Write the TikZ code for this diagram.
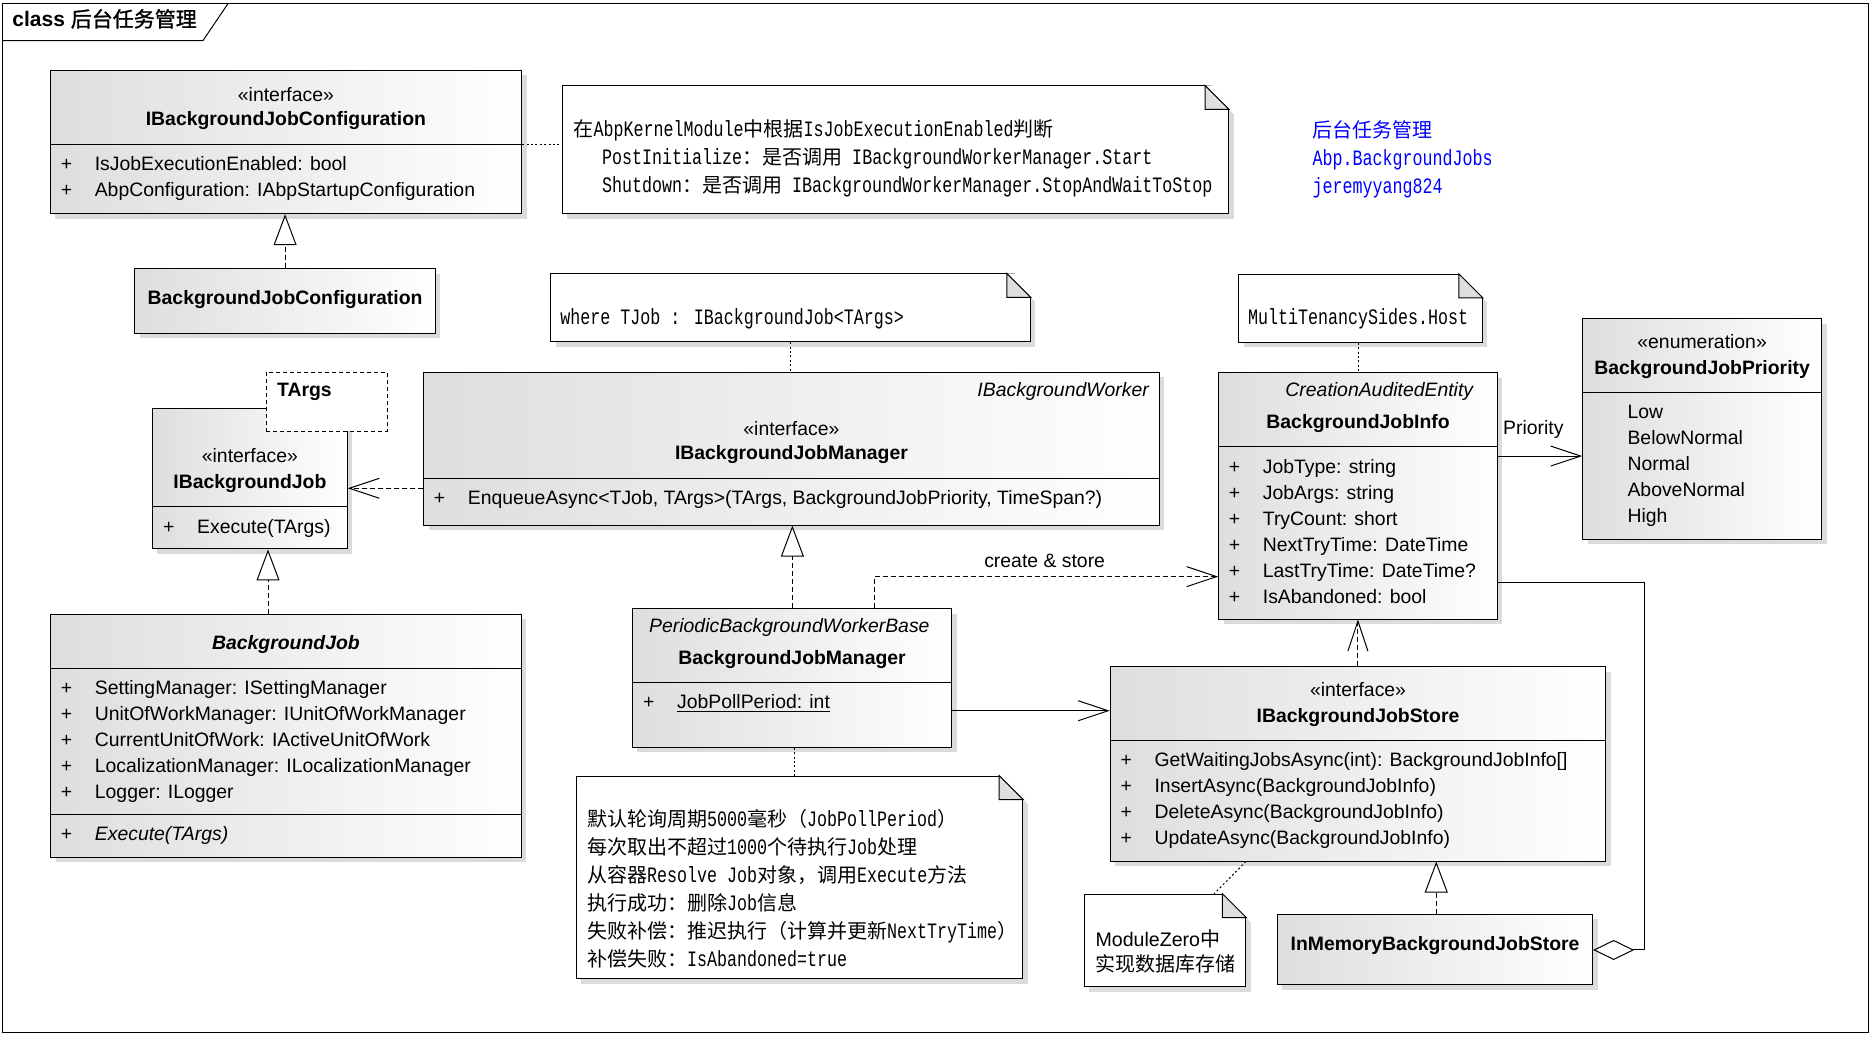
\documentclass[tikz,border=0pt]{standalone}
\usepackage{fontspec}
\setmainfont{Liberation Sans}
\newfontfamily\cjk{Noto Sans CJK SC}
\newfontfamily\cjkb[FakeBold=1.2]{Noto Sans CJK SC}
\newfontfamily\notemono[FakeStretch=0.758]{Liberation Mono}
\newcommand\zh[1]{{\cjk\fontsize{10}{14}\selectfont #1}}
\usetikzlibrary{arrows.meta,fit,shadows}

\begin{document}
\begin{tikzpicture}[x=0.597pt,y=-0.597pt,line width=0.5pt,
    font=\fontsize{9.7}{13}\selectfont,
    lbl/.style={inner sep=0pt},
    mono/.style={lbl,font=\notemono\fontsize{11}{14}\selectfont},
    box/.style={draw,inner sep=0pt,left color=black!13,right color=white,
      drop shadow={shadow xshift=2.5pt,shadow yshift=-2.5pt,fill=black!14,opacity=1}},
    note/.style={draw,inner sep=0pt,fill=white,
      drop shadow={shadow xshift=2.5pt,shadow yshift=-2.5pt,fill=black!14,opacity=1}},
    targ/.style={draw,inner sep=0pt,fill=white,dash pattern=on 2pt off 1.5pt},
    realize/.style={dash pattern=on 2.5pt off 1.5pt,-{Triangle[open,length=15.5pt,width=11.5pt]}},
    depend/.style={dash pattern=on 2.5pt off 1.5pt,-{Straight Barb[length=15pt,width=10pt]}},
    assoc/.style={-{Straight Barb[length=15pt,width=10pt]}},
    aggr/.style={{Diamond[open,length=20.5pt,width=10pt]}-},
    notelink/.style={dash pattern=on 1pt off 1.2pt}]

\useasboundingbox (0,0) rectangle (1568,868);

% frame
\draw (2,3) rectangle (1565,865);
\draw (2,34) -- (170,34) -- (191,3);
\node[lbl,anchor=base west,font=\fontsize{10.5}{12}\selectfont] (title) at (10,22.5) {\textbf{class} {\cjkb 后台任务管理}};

% configuration
\node[box,fit={(42,59) (437,179)}] (ibjc) {};
\draw (ibjc.west |- 0,121) -- (ibjc.east |- 0,121);
\node[lbl,anchor=base] (ibjc-st) at (239.5,85) {«interface»};
\node[lbl,anchor=base] (ibjc-name) at (239.5,105.5) {\bfseries IBackgroundJobConfiguration};
\node[lbl,anchor=base west] (ibjc-attr) at (50.5,143) {\begin{tabular}[t]{@{}p{17pt}@{}l@{}}
  + & IsJobExecutionEnabled: bool\\
  + & AbpConfiguration: IAbpStartupConfiguration
\end{tabular}};

\node[box,fit={(113,225) (364.6,279)}] (bjc) {};
\node[lbl,anchor=base] (bjc-name) at (238.8,255) {\bfseries BackgroundJobConfiguration};

\node[note,fit={(471,72) (1029,179)}] (ncfg) {};
\node[mono,anchor=base west] (ncfg-txt) at (480,114.5) {\begin{tabular}[t]{@{}l@{}}
  \zh{在}AbpKernelModule\zh{中根据}IsJobExecutionEnabled\zh{判断}\\
  \hspace{14.3pt}PostInitialize\zh{：是否调用} IBackgroundWorkerManager.Start\\
  \hspace{14.3pt}Shutdown\zh{：是否调用} IBackgroundWorkerManager.StopAndWaitToStop
\end{tabular}};

% info text
\node[mono,anchor=base west,text=blue] (info1) at (1099,115.5) {\zh{后台任务管理}};
\node[mono,anchor=base west,text=blue] (info2) at (1099,139) {Abp.BackgroundJobs};
\node[mono,anchor=base west,text=blue] (info3) at (1099,162) {jeremyyang824};

% job interface
\node[box,fit={(127.6,342) (290.9,459.8)}] (ibj) {};
\draw (ibj.west |- 0,424.4) -- (ibj.east |- 0,424.4);
\node[lbl,anchor=base] (ibj-st) at (209.3,387.5) {«interface»};
\node[lbl,anchor=base] (ibj-name) at (209.3,409) {\bfseries IBackgroundJob};
\node[lbl,anchor=base west] (ibj-op) at (136.3,446.6) {\begin{tabular}[t]{@{}p{17pt}@{}l@{}}
  + & Execute(TArgs)
\end{tabular}};
\node[targ,fit={(223,311.9) (324.4,361.3)}] (targs) {};
\node[lbl,anchor=base west] (targs-name) at (231.7,332.2) {\bfseries TArgs};

% manager interface
\node[box,fit={(355,311.9) (970.8,439.8)}] (ibjm) {};
\draw (ibjm.west |- 0,401) -- (ibjm.east |- 0,401);
\node[lbl,anchor=base east] (ibjm-base) at (962.7,332.2) {\itshape IBackgroundWorker};
\node[lbl,anchor=base] (ibjm-st) at (662.9,364.8) {«interface»};
\node[lbl,anchor=base] (ibjm-name) at (662.9,385.2) {\bfseries IBackgroundJobManager};
\node[lbl,anchor=base west] (ibjm-op) at (363,422.9) {\begin{tabular}[t]{@{}p{17pt}@{}l@{}}
  + & EnqueueAsync<TJob, TArgs>(TArgs, BackgroundJobPriority, TimeSpan?)
\end{tabular}};

\node[note,fit={(461.2,229.5) (863,286.2)}] (njob) {};
\node[mono,anchor=base west] (njob-txt) at (469,271.8) {where TJob : IBackgroundJob<TArgs>};

% job base class
\node[box,fit={(42.4,514.5) (436.6,718)}] (bjob) {};
\draw (bjob.west |- 0,560.3) -- (bjob.east |- 0,560.3);
\draw (bjob.west |- 0,682) -- (bjob.east |- 0,682);
\node[lbl,anchor=base] (bjob-name) at (239.5,544.3) {\bfseries\itshape BackgroundJob};
\node[lbl,anchor=base west] (bjob-attr) at (50.6,582) {\begin{tabular}[t]{@{}p{17pt}@{}l@{}}
  + & SettingManager: ISettingManager\\
  + & UnitOfWorkManager: IUnitOfWorkManager\\
  + & CurrentUnitOfWork: IActiveUnitOfWork\\
  + & LocalizationManager: ILocalizationManager\\
  + & Logger: ILogger
\end{tabular}};
\node[lbl,anchor=base west] (bjob-op) at (50.6,704.3) {\begin{tabular}[t]{@{}p{17pt}@{}l@{}}
  + & \itshape Execute(TArgs)
\end{tabular}};

% job info
\node[box,fit={(1020.8,312.2) (1254.1,518.5)}] (bji) {};
\draw (bji.west |- 0,373.6) -- (bji.east |- 0,373.6);
\node[lbl,anchor=base east] (bji-base) at (1234.3,332.2) {\itshape CreationAuditedEntity};
\node[lbl,anchor=base] (bji-name) at (1137.5,359.2) {\bfseries BackgroundJobInfo};
\node[lbl,anchor=base west] (bji-attr) at (1028.9,396.4) {\begin{tabular}[t]{@{}p{17pt}@{}l@{}}
  + & JobType: string\\
  + & JobArgs: string\\
  + & TryCount: short\\
  + & NextTryTime: DateTime\\
  + & LastTryTime: DateTime?\\
  + & IsAbandoned: bool
\end{tabular}};

\node[note,fit={(1037.4,229.8) (1241.6,286.7)}] (ninfo) {};
\node[mono,anchor=base west] (ninfo-txt) at (1045,271.8) {MultiTenancySides.Host};

% priority enum
\node[box,fit={(1325.7,266.9) (1525.7,451.7)}] (bjp) {};
\draw (bjp.west |- 0,328.6) -- (bjp.east |- 0,328.6);
\node[lbl,anchor=base] (bjp-st) at (1425.7,292.2) {«enumeration»};
\node[lbl,anchor=base] (bjp-name) at (1425.7,314) {\bfseries BackgroundJobPriority};
\node[lbl,anchor=base west] (bjp-val) at (1362.8,350.9) {\begin{tabular}[t]{@{}l@{}}
  Low\\ BelowNormal\\ Normal\\ AboveNormal\\ High
\end{tabular}};

% manager
\node[box,fit={(529.6,509.8) (797.1,625.9)}] (bjm) {};
\draw (bjm.west |- 0,571.8) -- (bjm.east |- 0,571.8);
\node[lbl,anchor=base east] (bjm-base) at (779,529.8) {\itshape PeriodicBackgroundWorkerBase};
\node[lbl,anchor=base] (bjm-name) at (663.4,556.9) {\bfseries BackgroundJobManager};
\node[lbl,anchor=base west] (bjm-attr) at (538.3,593.7) {\begin{tabular}[t]{@{}p{17pt}@{}l@{}}
  + & \underline{JobPollPeriod: int}
\end{tabular}};

\node[note,fit={(482.5,650) (856.6,820)}] (nmgr) {};
\node[mono,anchor=base west] (nmgr-txt) at (491.4,692) {\begin{tabular}[t]{@{}l@{}}
  \zh{默认轮询周期}5000\zh{毫秒（}JobPollPeriod\zh{）}\\
  \zh{每次取出不超过}1000\zh{个待执行}Job\zh{处理}\\
  \zh{从容器}Resolve Job\zh{对象，调用}Execute\zh{方法}\\
  \zh{执行成功：删除}Job\zh{信息}\\
  \zh{失败补偿：推迟执行（计算并更新}NextTryTime\zh{）}\\
  \zh{补偿失败：}IsAbandoned=true
\end{tabular}};

% store
\node[box,fit={(930,558.4) (1345,721.2)}] (ibjs) {};
\draw (ibjs.west |- 0,620.1) -- (ibjs.east |- 0,620.1);
\node[lbl,anchor=base] (ibjs-st) at (1137.5,583.5) {«interface»};
\node[lbl,anchor=base] (ibjs-name) at (1137.5,605.2) {\bfseries IBackgroundJobStore};
\node[lbl,anchor=base west] (ibjs-op) at (938.2,642.1) {\begin{tabular}[t]{@{}p{17pt}@{}l@{}}
  + & GetWaitingJobsAsync(int): BackgroundJobInfo[]\\
  + & InsertAsync(BackgroundJobInfo)\\
  + & DeleteAsync(BackgroundJobInfo)\\
  + & UpdateAsync(BackgroundJobInfo)
\end{tabular}};

\node[box,fit={(1070,765.6) (1334,825)}] (inmem) {};
\node[lbl,anchor=base] (inmem-name) at (1202,796) {\bfseries InMemoryBackgroundJobStore};

\node[note,fit={(908,749) (1043.6,826.4)}] (nstore) {};
\node[lbl,anchor=base west,font=\fontsize{9.8}{12.5}\selectfont] (nstore-txt) at (917.2,793) {\begin{tabular}[t]{@{}l@{}}
  ModuleZero\zh{中}\\ \zh{实现数据库存储}
\end{tabular}};

% note corners
\foreach \n in {ncfg,njob,ninfo,nmgr,nstore}{
  \fill[white] ([xshift=-12pt]\n.north east) -- ([xshift=3pt,yshift=0.5pt]\n.north east) -- ([xshift=3pt,yshift=-15pt]\n.north east) -- cycle;
  \draw[fill=black!13] ([xshift=-12pt]\n.north east) |- ([yshift=-12pt]\n.north east) -- cycle;
}

% connectors
\draw[realize] (bjc.north) -- (bjc.north |- ibjc.south);
\draw[notelink] (ibjc.east |- 0,121) -- (ncfg.west |- 0,121);
\draw[realize] (bjob.north -| 224.5,0) -- (ibj.south -| 224.5,0);
\draw[depend] (ibjm.west |- 0,409) -- (ibj.east |- 0,409);
\draw[notelink] (njob.south -| 662.3,0) -- (ibjm.north -| 662.3,0);
\draw[notelink] (ninfo.south -| 1137.8,0) -- (bji.north -| 1137.8,0);
\draw[assoc] (bji.east |- 0,382) -- (bjp.west |- 0,382);
\node[lbl,anchor=base west] (prio) at (1258.6,364.3) {Priority};
\draw[realize] (bjm.north -| 663.7,0) -- (ibjm.south -| 663.7,0);
\draw[depend] (bjm.north -| 732.3,0) |- (bji.west |- 0,483);
\node[lbl,anchor=base] (create) at (875,475) {create \& store};
\draw[assoc] (bjm.east |- 0,595.3) -- (ibjs.west |- 0,595.3);
\draw[notelink] (bjm.south -| 665.3,0) -- (nmgr.north -| 665.3,0);
\draw[depend] (ibjs.north -| 1137.4,0) -- (bji.south -| 1137.4,0);
\draw[realize] (inmem.north -| 1203,0) -- (ibjs.south -| 1203,0);
\draw[notelink] (ibjs.south -| 1043.6,0) -- (nstore.north -| 1017,0);
\draw[aggr] (inmem.east |- 0,795.7) -| (1377.3,487.8) -- (bji.east |- 0,487.8);

\end{tikzpicture}
\end{document}
